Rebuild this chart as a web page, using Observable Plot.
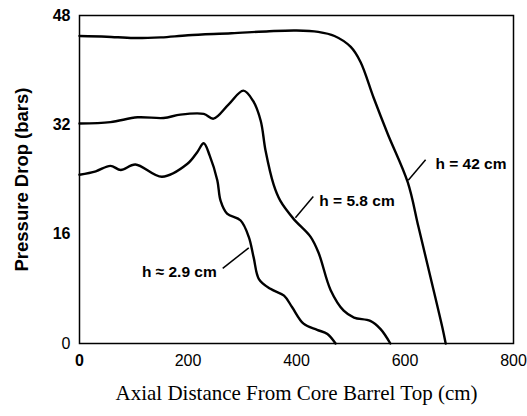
<!DOCTYPE html>
<html>
<head>
<meta charset="utf-8">
<script src="https://cdn.jsdelivr.net/npm/d3@7"></script>
<script src="https://cdn.jsdelivr.net/npm/@observablehq/plot@0.6"></script>
<style>
  html, body { margin: 0; padding: 0; background: #fff; }
</style>
</head>
<body>
<div id="chart"></div>
<script>
// Series: axial distance (cm) vs pressure drop (bars)
const h42X = [0, 50, 100, 150, 200, 280, 350, 400, 440, 470, 500, 518, 542, 568, 605, 625, 647, 669, 675];
const h42Y = [45.0, 44.9, 44.7, 44.8, 45.1, 45.4, 45.7, 45.8, 45.6, 45.0, 43.4, 41.2, 36.0, 30.7, 23.6, 17.0, 9.7, 2.3, 0];

const h58X = [0, 57, 107, 155, 186, 229, 247, 275, 302, 320, 334, 343, 358, 370, 395, 426, 441, 463, 487, 506, 536, 555, 573];
const h58Y = [32.2, 32.4, 33.1, 33.0, 33.5, 33.6, 32.9, 35.0, 37.0, 35.5, 32.6, 28.2, 23.2, 20.9, 18.2, 15.6, 13.2, 7.8, 4.8, 3.8, 3.3, 2.1, 0];

const h29X = [0, 30, 57, 76, 103, 152, 199, 217, 229, 240, 254, 260, 272, 297, 312, 321, 331, 352, 377, 392, 413, 438, 457, 472];
const h29Y = [24.7, 25.2, 26.0, 25.4, 26.2, 24.4, 26.3, 28.0, 29.3, 27.5, 23.9, 20.9, 19.0, 18.0, 15.6, 12.6, 9.4, 8.0, 7.0, 5.3, 2.9, 2.0, 1.4, 0];

const xTicks = [0, 200, 400, 600, 800];
const xTickBold = [true, false, false, false, false];
const yTicks = [0, 16, 32, 48];
const yTickBold = [false, true, true, true];

const labels = ["h = 42 cm", "h = 5.8 cm", "h ≈ 2.9 cm"];
const labelX = [656, 442, 253];
const labelY = [26.3, 20.9, 10.5];
const labelAnchor = ["start", "start", "end"];
const leaderX1 = [638, 431, 264];
const leaderY1 = [26.9, 21.5, 11.0];
const leaderX2 = [606, 398, 312];
const leaderY2 = [23.9, 18.4, 14.0];

const xTitle = "Axial Distance From Core Barrel Top (cm)";
const yTitle = "Pressure Drop (bars)";

const toRows = (xs, ys) => xs.map((x, i) => ({x, y: ys[i]}));
const series = [toRows(h42X, h42Y), toRows(h58X, h58Y), toRows(h29X, h29Y)];
const xt = xTicks.map((v, i) => ({v, bold: xTickBold[i]}));
const yt = yTicks.map((v, i) => ({v, bold: yTickBold[i]}));
const ann = labels.map((t, i) => ({t, x: labelX[i], y: labelY[i], a: labelAnchor[i],
  x1: leaderX1[i], y1: leaderY1[i], x2: leaderX2[i], y2: leaderY2[i]}));

const sans = "Liberation Sans, Arial, sans-serif";

const chart = Plot.plot({
  width: 527,
  height: 416,
  marginLeft: 79,
  marginRight: 14,
  marginTop: 15,
  marginBottom: 73,
  style: {background: "#fff", color: "#000"},
  x: {domain: [0, 800], axis: null},
  y: {domain: [0, 48], axis: null},
  marks: [
    Plot.frame({stroke: "#000", strokeWidth: 1.5}),
    ...series.map(s => Plot.line(s, {x: "x", y: "y", curve: "catmull-rom", stroke: "#000", strokeWidth: 2.4})),
    Plot.link(ann, {x1: "x1", y1: "y1", x2: "x2", y2: "y2", stroke: "#000", strokeWidth: 1.5}),
    ...["start", "end"].map(a => Plot.text(ann.filter(d => d.a === a), {x: "x", y: "y", text: "t",
      textAnchor: a, fontFamily: sans, fontWeight: "bold", fontSize: 15.5, fill: "#000"})),
    ...[true, false].map(b => Plot.text(xt.filter(d => d.bold === b), {x: "v", y: 0, text: d => String(d.v),
      dy: 17, fontFamily: sans, fontWeight: b ? "bold" : "normal", fontSize: 16, fill: "#000", clip: false})),
    ...[true, false].map(b => Plot.text(yt.filter(d => d.bold === b), {x: 0, y: "v", text: d => String(d.v),
      dx: -9, textAnchor: "end", fontFamily: sans, fontWeight: b ? "bold" : "normal", fontSize: 16, fill: "#000", clip: false})),
    Plot.text([xTitle], {x: 400, y: 0, text: d => d, dy: 50, fontFamily: "Liberation Serif, Times New Roman, serif",
      fontSize: 21, fill: "#000", clip: false}),
    Plot.text([yTitle], {x: 0, y: 24, text: d => d, dx: -57, rotate: -90, fontFamily: sans,
      fontWeight: "bold", fontSize: 18.5, fill: "#000", clip: false})
  ]
});
document.getElementById("chart").appendChild(chart);
</script>
</body>
</html>
